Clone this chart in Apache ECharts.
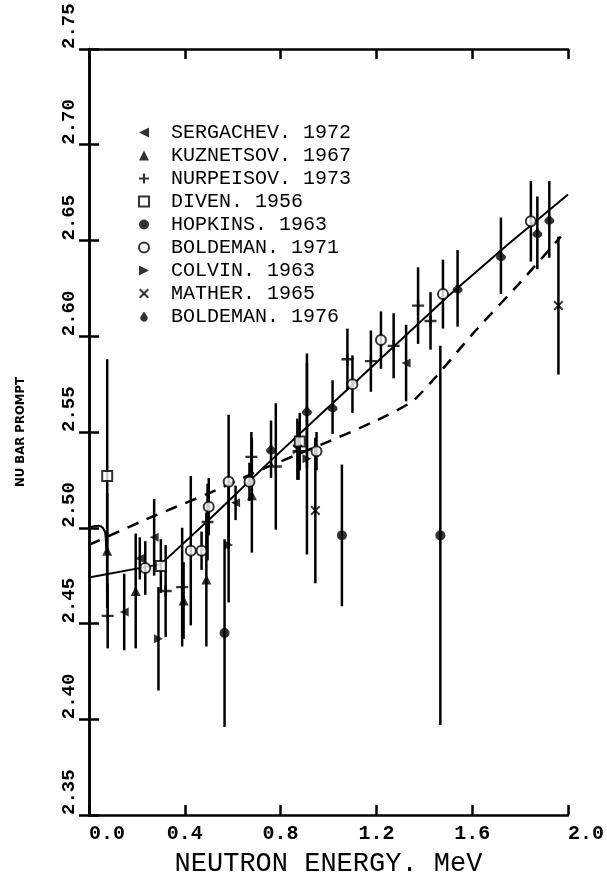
<!DOCTYPE html>
<html>
<head>
<meta charset="utf-8">
<script src="https://cdn.jsdelivr.net/npm/echarts@6/dist/echarts.min.js"></script>
<style>html,body{margin:0;padding:0;background:#fff;}#c{width:607px;height:882px;}</style>
</head>
<body>
<div id="c"></div>
<script>
// ---- data: [energy MeV, nu-bar, error] ----
const sergachev = [[0.147,2.456,0.020],[0.212,2.484,0.011],[0.272,2.495,0.020],[0.612,2.513,0.009],[1.324,2.586,0.020]];
const kuznetsov = [[0.076,2.488,0.030],[0.195,2.467,0.030],[0.395,2.462,0.020],[0.490,2.473,0.035],[0.680,2.517,0.030]];
const nurpeisov = [[0.078,2.454,0.017],[0.320,2.467,0.024],[0.389,2.469,0.031],[0.495,2.503,0.020],[0.678,2.537,0.013],[0.780,2.532,0.033],[0.875,2.540,0.015],[1.079,2.588,0.016],[1.177,2.587,0.016],[1.272,2.595,0.017],[1.374,2.616,0.020],[1.426,2.608,0.015]];
const diven = [[0.076,2.527,0.061],[0.300,2.480,0.014],[0.880,2.545,0.015]];
const hopkins = [[0.566,2.445,0.049],[1.056,2.496,0.037],[1.467,2.496,0.099]];
const boldeman71 = [[0.235,2.479,0.014],[0.425,2.488,0.039],[0.470,2.488,0.010],[0.500,2.511,0.015],[0.583,2.524,0.035],[0.670,2.524,0.010],[0.950,2.540,0.010],[1.100,2.575,0.015],[1.219,2.598,0.015],[1.478,2.622,0.018],[1.845,2.660,0.021]];
const colvin = [[0.290,2.442,0.027],[0.583,2.491,0.030],[0.910,2.536,0.050]];
const mather = [[0.870,2.541,0.016],[0.945,2.509,0.038],[1.960,2.616,0.036]];
const boldeman76 = [[0.760,2.541,0.015],[0.910,2.561,0.030],[1.017,2.563,0.014],[1.539,2.625,0.020],[1.720,2.642,0.020],[1.872,2.654,0.019],[1.922,2.661,0.020]];

// evaluated curves
const fitCurve = [[0,2.474],[0.30,2.481],[0.5,2.504],[0.75,2.534],[1.0,2.563],[1.25,2.592],[1.5,2.621],[1.75,2.648],[2.0,2.674]];
const lowEnergyCurve = [[0,2.500],[0.04,2.501],[0.057,2.500],[0.068,2.497],[0.072,2.489],[0.075,2.485]];
const dashedCurve = [[0,2.491],[0.25,2.505],[0.5,2.518],[0.75,2.532],[1.0,2.545],[1.2,2.556],[1.35,2.566],[1.45,2.579],[1.6,2.601],[1.8,2.628],[1.97,2.652]];

const xTicks = [0.0,0.4,0.8,1.2,1.6,2.0];
const yTicks = [2.35,2.40,2.45,2.50,2.55,2.60,2.65,2.70,2.75];

const PLUS = 'path://M4,0 H6 V4 H10 V6 H6 V10 H4 V6 H0 V4 H4 Z';
const CROSS = 'path://M0,1.4 L1.4,0 L5,3.6 L8.6,0 L10,1.4 L6.4,5 L10,8.6 L8.6,10 L5,6.4 L1.4,10 L0,8.6 L3.6,5 Z';
const DROP = 'path://M5,0 L7.5,4 A4,4 0 1 1 2.5,4 Z';
const groups = [
  {name:'SERGACHEV. 1972', data:sergachev, symbol:'path://M0,5 L10,0 L10,10 Z', size:9},
  {name:'KUZNETSOV. 1967', data:kuznetsov, symbol:'triangle', size:10},
  {name:'NURPEISOV. 1973', data:nurpeisov, symbol:PLUS, size:12},
  {name:'DIVEN. 1956', data:diven, symbol:'emptyRect', size:10},
  {name:'HOPKINS. 1963', data:hopkins, symbol:'circle', size:10},
  {name:'BOLDEMAN. 1971', data:boldeman71, symbol:'emptyCircle', size:10},
  {name:'COLVIN. 1963', data:colvin, symbol:'path://M10,5 L0,0 L0,10 Z', size:9},
  {name:'MATHER. 1965', data:mather, symbol:CROSS, size:10},
  {name:'BOLDEMAN. 1976', data:boldeman76, symbol:DROP, size:10}
];

const FONT = 'Liberation Mono';
const allPoints = [].concat(...groups.map(g => g.data));

const axisLine = {show:true, lineStyle:{color:'#000', width:2.5}};
const axisTickIn = {show:true, inside:true, length:10, lineStyle:{color:'#000', width:2.5}};

const series = [
  {
    type:'custom', name:'errors', silent:true, z:2,
    encode:{x:0, y:1},
    data: allPoints,
    renderItem: function(params, api){
      const x = api.value(0), y = api.value(1), e = api.value(2);
      const p1 = api.coord([x, y + e]), p2 = api.coord([x, y - e]);
      return {type:'line', shape:{x1:p1[0], y1:p1[1], x2:p2[0], y2:p2[1]}, style:{stroke:'#000', lineWidth:2.5}};
    }
  },
  {type:'line', name:'fit', data:fitCurve, showSymbol:false, symbol:'none', lineStyle:{color:'#000', width:2}, z:3, silent:true},
  {type:'line', name:'fit2', data:lowEnergyCurve, showSymbol:false, symbol:'none', smooth:true, lineStyle:{color:'#000', width:2}, z:3, silent:true},
  {type:'line', name:'eval', data:dashedCurve, showSymbol:false, symbol:'none', smooth:0.2, lineStyle:{color:'#000', width:2.5, type:[12,9]}, z:3, silent:true}
];
groups.forEach(g => {
  series.push({
    type:'scatter', name:g.name, data:g.data.map(d => [d[0], d[1]]),
    symbol:g.symbol, symbolSize:g.size, z:5,
    itemStyle:{color:'#000', borderColor:'#000', borderWidth: (g.symbol.indexOf('empty')===0 ? 2 : 0)}
  });
});

const chart = echarts.init(document.getElementById('c'), null, {renderer:'canvas'});
chart.setOption({
  animation:false,
  backgroundColor:'#fff',
  grid:{left:89, right:28, top:49, bottom:60},
  legend:{
    data: groups.map(g => g.name), orient:'vertical', left:133, top:116,
    itemWidth:10, itemHeight:10, itemGap:0, selectedMode:false,
    textStyle:{fontFamily:FONT, fontSize:20, color:'#000', lineHeight:23, padding:[0,0,0,17]}
  },
  xAxis:[
    {type:'value', min:xTicks[0], max:xTicks[xTicks.length-1], interval:0.4,
     axisLine:axisLine, axisTick:axisTickIn, splitLine:{show:false},
     axisLabel:{formatter:v => v.toFixed(1), fontFamily:FONT, fontSize:20, fontWeight:'bold', color:'#000', margin:9, alignMinLabel:'left', alignMaxLabel:'left'},
     name:'NEUTRON ENERGY. MeV', nameLocation:'middle', nameGap:35,
     nameTextStyle:{fontFamily:FONT, fontSize:27, color:'#000'}},
    {type:'value', position:'top', min:0, max:2, interval:0.4,
     axisLine:axisLine, axisTick:axisTickIn, axisLabel:{show:false}, splitLine:{show:false}}
  ],
  yAxis:[
    {type:'value', min:yTicks[0], max:yTicks[yTicks.length-1], interval:0.05,
     axisLine:axisLine, axisTick:axisTickIn, splitLine:{show:false},
     axisLabel:{formatter:v => v.toFixed(2), rotate:90, align:'left', fontFamily:FONT, fontSize:19, fontWeight:'bold', color:'#000', margin:10},
     name:'NU BAR PROMPT', nameLocation:'middle', nameRotate:90, nameGap:62,
     nameTextStyle:{fontFamily:'DejaVu Sans Condensed', fontSize:13, fontWeight:'bold', color:'#000'}},
    {type:'value', position:'right', min:2.35, max:2.75, interval:0.05,
     axisLine:axisLine, axisTick:axisTickIn, axisLabel:{show:false}, splitLine:{show:false}}
  ],
  series: series
});
</script>
</body>
</html>
